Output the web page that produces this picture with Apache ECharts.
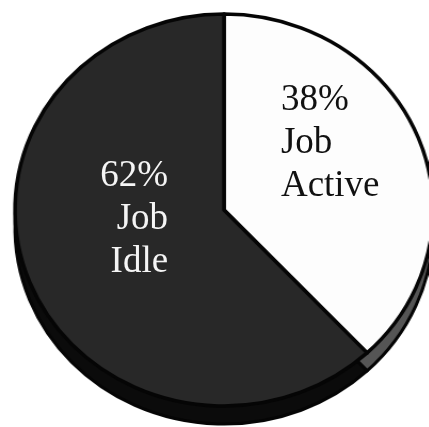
<!DOCTYPE html>
<html>
<head>
<meta charset="utf-8">
<script src="https://cdn.jsdelivr.net/npm/echarts@6/dist/echarts.min.js"></script>
<style>
  html, body { margin: 0; padding: 0; background: #fff; width: 429px; height: 427px; overflow: hidden; }
  #stage { position: relative; width: 429px; height: 427px; }
  #disc { position: absolute; left: 0; top: 0; height: 427px; transform-origin: 0 0; }
  #text { position: absolute; left: 0; top: 0; width: 429px; height: 427px; }
</style>
</head>
<body>
<div id="stage">
  <div id="disc"></div>
  <div id="text"></div>
</div>
<script>
// Share of time per job state
const categories = ['Job Active', 'Job Idle'];
const shares = [38, 62];

// Tilted-disc geometry: the top face is an ellipse, the rim is a copy pushed down
const CX = 224, CY = 210, RX = 209, RY = 196, DEPTH = 18;
const stretch = RX / RY;

const topColors = ['#fdfdfd', '#282828'];
const rimColors = ['#555555', '#0b0b0b'];
const textColors = ['#111111', '#f5f5f5'];

// The disc layer is drawn as a circle and widened into an ellipse with CSS
const discEl = document.getElementById('disc');
discEl.style.width = (429 / stretch) + 'px';
discEl.style.transform = 'scaleX(' + stretch + ')';

function sliceData(colors) {
  return categories.map((name, i) => ({
    name: name,
    value: shares[i],
    itemStyle: { color: colors[i] }
  }));
}

const pieBase = {
  type: 'pie',
  radius: RY,
  startAngle: 90,
  clockwise: true,
  silent: true,
  animation: false,
  label: { show: false },
  labelLine: { show: false },
  emphasis: { disabled: true }
};

const disc = echarts.init(discEl, null, { renderer: 'canvas' });
disc.setOption({
  animation: false,
  series: [
    Object.assign({}, pieBase, {
      z: 1,
      center: [CX / stretch, CY + DEPTH],
      itemStyle: { borderColor: '#050505', borderWidth: 3 },
      data: sliceData(rimColors)
    }),
    Object.assign({}, pieBase, {
      z: 2,
      center: [CX / stretch, CY],
      itemStyle: { borderColor: '#050505', borderWidth: 3.5 },
      data: sliceData(topColors)
    })
  ]
});

// Unstretched text layer: same slices, invisible, carrying the labels
const labelShift = [
  { dx: -37, dy: -30, align: 'left' },
  { dx: 38, dy: -28, align: 'right' }
];

const text = echarts.init(document.getElementById('text'), null, { renderer: 'canvas' });
text.setOption({
  animation: false,
  series: [
    Object.assign({}, pieBase, {
      center: [CX, CY],
      itemStyle: { color: 'rgba(0,0,0,0)', borderWidth: 0 },
      label: {
        show: true,
        position: 'inside',
        fontFamily: '"Liberation Serif", "Times New Roman", serif',
        fontSize: 37,
        lineHeight: 43,
        formatter: function (p) {
          return p.value + '%\n' + p.name.replace(' ', '\n');
        }
      },
      labelLayout: function (p) {
        const s = labelShift[p.dataIndex];
        return { dx: s.dx, dy: s.dy, align: s.align, verticalAlign: 'middle' };
      },
      data: categories.map((name, i) => ({
        name: name,
        value: shares[i],
        label: { color: textColors[i], align: labelShift[i].align }
      }))
    })
  ]
});
</script>
</body>
</html>
